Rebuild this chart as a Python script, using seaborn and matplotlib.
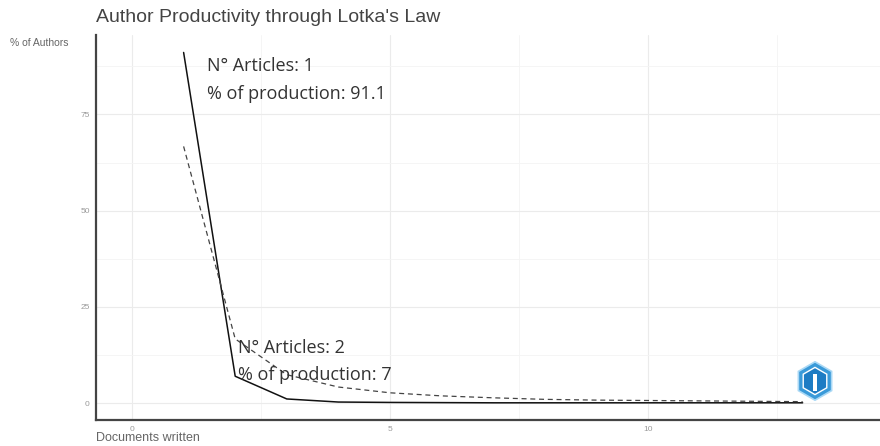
import numpy as np
import pandas as pd
import matplotlib
matplotlib.use("Agg")
import matplotlib.pyplot as plt
from matplotlib.patches import RegularPolygon
import seaborn as sns

# documents written per author, observed and theoretical (Lotka) share of authors
docs = [1, 2, 3, 4, 5, 6, 7, 8, 9, 10, 11, 12, 13]
observed = [91.1, 7.0, 1.1, 0.3, 0.2, 0.15, 0.1, 0.1, 0.1, 0.1, 0.1, 0.1, 0.1]
theoretical = [66.7, 16.7, 7.4, 4.2, 2.7, 1.9, 1.4, 1.0, 0.8, 0.7, 0.6, 0.5, 0.4]

df = pd.DataFrame({"docs": docs, "observed": observed, "theoretical": theoretical})

sns.set_style("white")
plt.rcParams['font.family'] = ['Liberation Sans', 'DejaVu Sans']

fig = plt.figure(figsize=(8.8, 4.46), dpi=100)
ax = fig.add_axes([0.109, 0.058, 0.891, 0.8632])

sns.lineplot(data=df, x="docs", y="observed", color="#111111", linewidth=1.1, ax=ax)
sns.lineplot(data=df, x="docs", y="theoretical", color="#444444", linewidth=0.9,
             linestyle=(0, (4, 3)), ax=ax)

ax.set_xlim(-0.7, 14.5)
ax.set_ylim(-4.4, 95.6)
ax.set_xticks([0, 5, 10])
ax.set_yticks([0, 25, 50, 75])
ax.set_xticks([2.5, 7.5, 12.5], minor=True)
ax.set_yticks([12.5, 37.5, 62.5, 87.5], minor=True)
ax.grid(True, which="major", color="#ebebeb", linewidth=0.8)
ax.grid(True, which="minor", color="#f4f4f4", linewidth=0.6)
ax.tick_params(axis="both", which="major", labelsize=6, labelcolor="#999999",
               color="#555555", length=2.5, width=0.6, pad=2)
ax.tick_params(axis="both", which="minor", length=0)
for side in ["top", "right"]:
    ax.spines[side].set_visible(False)
for side in ["left", "bottom"]:
    ax.spines[side].set_color("#444444")
    ax.spines[side].set_linewidth(1.6)
ax.set_xlabel("")
ax.set_ylabel("")

fig.text(0.109, 0.96, "Author Productivity through Lotka's Law", fontsize=14,
         color="#444444", va="center", ha="left")
fig.text(0.011, 0.903, "% of Authors", fontsize=7.5, color="#666666", va="center")
fig.text(0.109, 0.018, "Documents written", fontsize=9, color="#666666", va="center")

ann_font = ['Open Sans', 'DejaVu Sans']
ax.text(1.45, 89.8, "N° Articles: 1\n% of production: 91.1", fontsize=13,
        color="#333333", va="top", ha="left", linespacing=1.65, family=ann_font)
ax.text(2.05, 16.6, "N° Articles: 2\n% of production: 7", fontsize=13,
        color="#333333", va="top", ha="left", linespacing=1.65, family=ann_font)

# small hexagon badge at lower right, in a square inset so it keeps its shape
badge = fig.add_axes([795 / 880, 1 - 401 / 446, 40 / 880, 40 / 446])
badge.set_xlim(0, 1)
badge.set_ylim(0, 1)
badge.set_aspect("equal")
badge.axis("off")
badge.add_patch(RegularPolygon((0.5, 0.5), numVertices=6, radius=0.48, orientation=0,
                               facecolor="#3a9ad9", edgecolor="#a9d8f5", linewidth=1.2))
badge.add_patch(RegularPolygon((0.5, 0.5), numVertices=6, radius=0.34, orientation=0,
                               facecolor="#1e7cc4", edgecolor="white", linewidth=1.0))
badge.add_patch(plt.Rectangle((0.44, 0.25), 0.12, 0.42, facecolor="white", edgecolor="none"))

fig.savefig("out.png", dpi=100)
